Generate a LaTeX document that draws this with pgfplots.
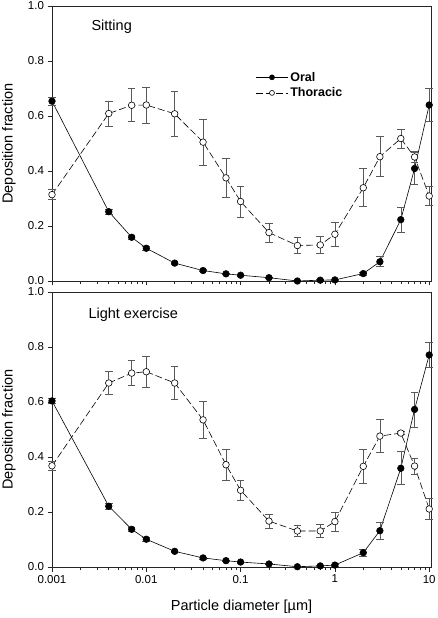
\documentclass[border=0pt]{standalone}
\usepackage{fontspec}
\setmainfont{Liberation Sans}
\usepackage{pgfplots}
\pgfplotsset{compat=1.18}
\pgfplotsset{
  oral/.style={black, line width=0.6pt, mark=*, mark size=3.3pt, mark options={fill=black, solid},
    error bars/y dir=both, error bars/y explicit,
    error bars/error bar style={line width=0.6pt, black!65, solid},
    error bars/error mark options={rotate=90, mark size=3.8pt, line width=0.6pt, black!65, solid}},
  thor/.style={black, line width=0.6pt, dash pattern=on 7pt off 3pt, mark=*, mark size=3.3pt, mark options={fill=white, solid},
    error bars/y dir=both, error bars/y explicit,
    error bars/error bar style={line width=0.6pt, black!65, solid},
    error bars/error mark options={rotate=90, mark size=3.8pt, line width=0.6pt, black!65, solid}},
  longlegend/.style={
    legend image code/.code={\draw[mark repeat=2,mark phase=2,##1] plot coordinates {(0pt,0pt) (16pt,0pt) (32pt,0pt)};},
    legend image post style={mark size=2.5pt}},
}
\begin{document}
\begin{tikzpicture}
\useasboundingbox (0pt,0pt) rectangle (437pt,618pt);
% ---------- top panel: Sitting ----------
\begin{axis}[at={(52pt,337pt)}, anchor=south west,
    xmode=log, scale only axis, width=379pt, height=275pt,
    xmin=0.001, xmax=10.45, ymin=0, ymax=1, clip=false,
    axis line style={line width=0.6pt, black!85},
    tick style={line width=0.6pt, black!85},
    tick align=outside, tick pos=left,
    major tick length=4.5pt, minor tick length=3pt,
    ytick={0,0.2,0.4,0.6,0.8,1.0},
    yticklabels={0.0,0.2,0.4,0.6,0.8,1.0},
    xtick={0.001,0.01,0.1,1,10}, xticklabels={},
    minor xtick={0.002,0.003,0.004,0.005,0.006,0.007,0.008,0.009,
                 0.02,0.03,0.04,0.05,0.06,0.07,0.08,0.09,
                 0.2,0.3,0.4,0.5,0.6,0.7,0.8,0.9,
                 2,3,4,5,6,7,8,9},
    xticklabel style={font=\fontsize{11.5}{13}\selectfont},
    yticklabel style={font=\fontsize{11.5}{13}\selectfont},
    ylabel={Deposition fraction},
    ylabel style={at={(axis description cs:-0.1135,0.5)}, anchor=center, font=\fontsize{14.5}{17}\selectfont},
    longlegend,
    legend style={at={(axis description cs:0.529,0.775)}, anchor=north west,
      draw=none, fill=none, font=\fontsize{12.5}{14}\selectfont\bfseries, row sep=1pt},
    legend cell align=left]
\addplot[oral] coordinates {
 (0.001,0.654) +- (0,0.015)
 (0.004,0.252) +- (0,0.010)
 (0.007,0.159) +- (0,0.008)
 (0.01,0.119) +- (0,0.007)
 (0.02,0.065) +- (0,0.005)
 (0.04,0.038) +- (0,0.004)
 (0.07,0.026) +- (0,0.003)
 (0.1,0.021) +- (0,0.003)
 (0.2,0.012) +- (0,0.002)
 (0.4,0.000) +- (0,0.002)
 (0.7,0.003) +- (0,0.002)
 (1,0.004) +- (0,0.003)
 (2,0.027) +- (0,0.006)
 (3,0.070) +- (0,0.018)
 (5,0.223) +- (0,0.046)
 (7,0.409) +- (0,0.059)
 (10,0.640) +- (0,0.060)
};
\addlegendentry{Oral}
\addplot[thor] coordinates {
 (0.001,0.314) +- (0,0.018)
 (0.004,0.609) +- (0,0.045)
 (0.007,0.639) +- (0,0.060)
 (0.01,0.640) +- (0,0.066)
 (0.02,0.608) +- (0,0.083)
 (0.04,0.505) +- (0,0.084)
 (0.07,0.375) +- (0,0.072)
 (0.1,0.289) +- (0,0.056)
 (0.2,0.176) +- (0,0.035)
 (0.4,0.129) +- (0,0.030)
 (0.7,0.131) +- (0,0.032)
 (1,0.170) +- (0,0.044)
 (2,0.339) +- (0,0.069)
 (3,0.452) +- (0,0.073)
 (5,0.518) +- (0,0.035)
 (7,0.451) +- (0,0.020)
 (10,0.309) +- (0,0.034)
};
\addlegendentry{Thoracic}
\node[anchor=base west, font=\fontsize{14.5}{17}\selectfont] at (axis description cs:0.095,0.911) {Sitting};
\end{axis}
% ---------- bottom panel: Light exercise ----------
\begin{axis}[at={(52pt,51pt)}, anchor=south west,
    xmode=log, scale only axis, width=379pt, height=275pt,
    xmin=0.001, xmax=10.45, ymin=0, ymax=1, clip=false,
    axis line style={line width=0.6pt, black!85},
    tick style={line width=0.6pt, black!85},
    tick align=outside, tick pos=left,
    major tick length=4.5pt, minor tick length=3pt,
    ytick={0,0.2,0.4,0.6,0.8,1.0},
    yticklabels={0.0,0.2,0.4,0.6,0.8,1.0},
    xtick={0.001,0.01,0.1,1,10},
    xticklabels={0.001,0.01,0.1,1,10},
    minor xtick={0.002,0.003,0.004,0.005,0.006,0.007,0.008,0.009,
                 0.02,0.03,0.04,0.05,0.06,0.07,0.08,0.09,
                 0.2,0.3,0.4,0.5,0.6,0.7,0.8,0.9,
                 2,3,4,5,6,7,8,9},
    xticklabel style={font=\fontsize{11.5}{13}\selectfont},
    yticklabel style={font=\fontsize{11.5}{13}\selectfont},
    ylabel={Deposition fraction},
    ylabel style={at={(axis description cs:-0.1135,0.5)}, anchor=center, font=\fontsize{14.5}{17}\selectfont},
    xlabel={Particle diameter [µm]},
    xlabel style={at={(axis description cs:0.5,-0.1455)}, anchor=center, font=\fontsize{14.5}{17}\selectfont}]
\addplot[oral] coordinates {
 (0.001,0.604) +- (0,0.010)
 (0.004,0.221) +- (0,0.010)
 (0.007,0.137) +- (0,0.008)
 (0.01,0.101) +- (0,0.006)
 (0.02,0.057) +- (0,0.004)
 (0.04,0.033) +- (0,0.004)
 (0.07,0.023) +- (0,0.003)
 (0.1,0.018) +- (0,0.003)
 (0.2,0.011) +- (0,0.002)
 (0.4,0.001) +- (0,0.002)
 (0.7,0.004) +- (0,0.002)
 (1,0.007) +- (0,0.003)
 (2,0.052) +- (0,0.012)
 (3,0.132) +- (0,0.031)
 (5,0.359) +- (0,0.060)
 (7,0.573) +- (0,0.064)
 (10,0.771) +- (0,0.045)
};
\addplot[thor] coordinates {
 (0.001,0.368) +- (0,0.016)
 (0.004,0.669) +- (0,0.042)
 (0.007,0.705) +- (0,0.045)
 (0.01,0.710) +- (0,0.055)
 (0.02,0.669) +- (0,0.061)
 (0.04,0.535) +- (0,0.067)
 (0.07,0.372) +- (0,0.055)
 (0.1,0.279) +- (0,0.036)
 (0.2,0.167) +- (0,0.025)
 (0.4,0.131) +- (0,0.021)
 (0.7,0.131) +- (0,0.024)
 (1,0.165) +- (0,0.035)
 (2,0.366) +- (0,0.062)
 (3,0.476) +- (0,0.060)
 (5,0.487) +- (0,0.006)
 (7,0.367) +- (0,0.030)
 (10,0.211) +- (0,0.037)
};
\node[anchor=base west, font=\fontsize{14.5}{17}\selectfont] at (axis description cs:0.087,0.903) {Light exercise};
\end{axis}
\end{tikzpicture}
\end{document}
